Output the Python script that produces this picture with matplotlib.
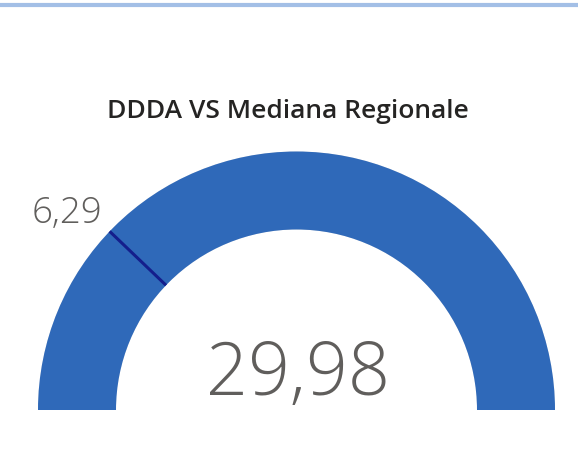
import numpy as np
from matplotlib import pyplot as plt
from matplotlib.patches import Wedge

# gauge data
title = "DDDA VS Mediana Regionale"
value = 29.98
target = 6.29
gauge_min = 0.0
gauge_max = 25.9  # estimated: arc shows full, target mark at ~24% of the sweep

def fmt(v):
    return f"{v:.2f}".replace('.', ',')

def frac(v):
    return min(max((v - gauge_min) / (gauge_max - gauge_min), 0.0), 1.0)

fig = plt.figure(figsize=(5.78, 4.70), dpi=100)
ax = fig.add_axes([0, 0, 1, 1])
ax.set_xlim(0, 578)
ax.set_ylim(0, 470)
ax.set_aspect('equal')
ax.axis('off')

# top border of the tile
ax.plot([0, 578], [465, 465], color='#A3BFE6', lw=3, solid_capstyle='butt')

cx, cy = 296.5, 60
r_out, r_in = 258.5, 180.5

# background track and filled arc
ax.add_patch(Wedge((cx, cy), r_out, 0, 180, width=r_out - r_in,
                   facecolor='#E6E6E6', edgecolor='none'))
theta_val = 180 - 180 * frac(value)
ax.add_patch(Wedge((cx, cy), r_out, theta_val, 180, width=r_out - r_in,
                   facecolor='#2F69B9', edgecolor='none'))

# target marker
theta_t = np.radians(180 - 180 * frac(target))
ax.plot([cx + r_in * np.cos(theta_t), cx + r_out * np.cos(theta_t)],
        [cy + r_in * np.sin(theta_t), cy + r_out * np.sin(theta_t)],
        color='#141E8C', lw=2.2, solid_capstyle='butt')
ax.text(cx + r_out * np.cos(theta_t) - 7, cy + r_out * np.sin(theta_t) - 1,
        fmt(target), ha='right', va='bottom', fontsize=26.5,
        family='Open Sans', fontweight='light', color='#605E5C')

# main value
ax.text(cx + 2, 75, fmt(value), ha='center', va='baseline', fontsize=53,
        family='Open Sans', fontweight='light', color='#605E5C')

ax.text(288, 359, title, ha='center', va='center', fontsize=19,
        family='Open Sans', fontweight='semibold', color='#252423')

fig.savefig('out.png', dpi=100, facecolor='white')
